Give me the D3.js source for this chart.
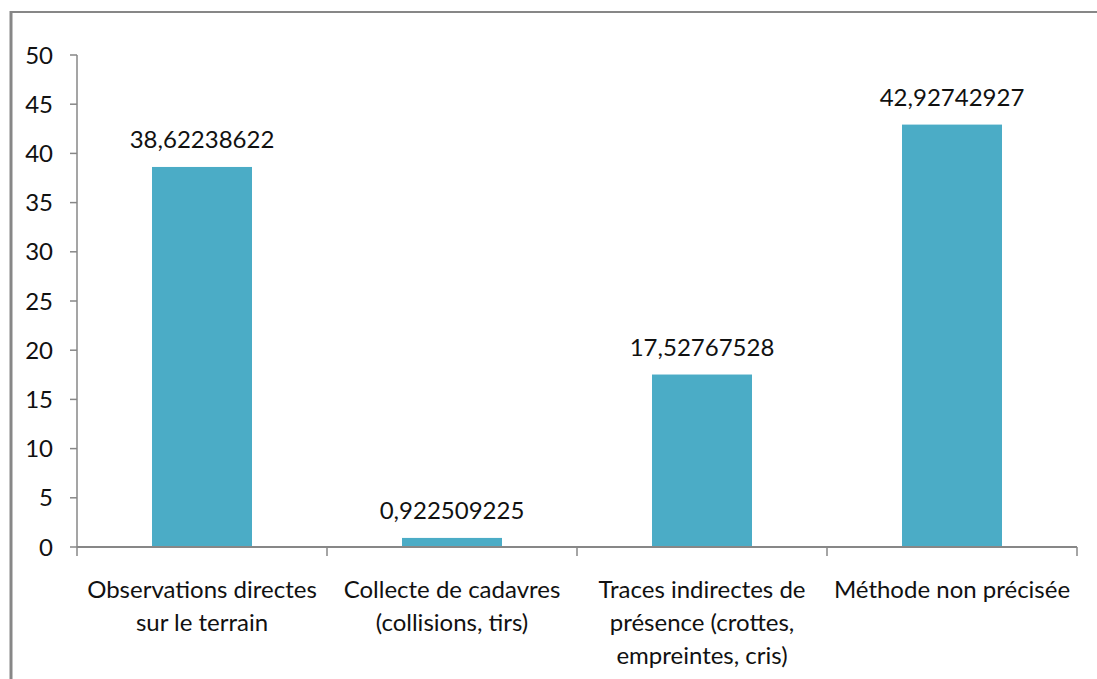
<!DOCTYPE html>
<html>
<head>
<meta charset="utf-8">
<script src="https://cdn.jsdelivr.net/npm/d3@7"></script>
<style>
  html, body { margin: 0; padding: 0; background: #fff; }
  svg { display: block; }
  text { font-family: Lato, "Open Sans", sans-serif; fill: #111; }
</style>
</head>
<body>
<svg id="chart" width="1097" height="679"></svg>
<script>
// Survey methods and their share (%)
const categories = [
  ["Observations directes", "sur le terrain"],
  ["Collecte de cadavres", "(collisions, tirs)"],
  ["Traces indirectes de", "présence (crottes,", "empreintes, cris)"],
  ["Méthode non précisée"]
];
const values = [38.62238622, 0.922509225, 17.52767528, 42.92742927];
const valueLabels = ["38,62238622", "0,922509225", "17,52767528", "42,92742927"];
const yTicks = [0, 5, 10, 15, 20, 25, 30, 35, 40, 45, 50];

const svg = d3.select("#chart");
const axisColor = "#878787";
const barColor = "#4BACC6";
const fontSize = 24;

// Outer frame (open towards right and bottom)
svg.append("line").attr("x1", 11).attr("x2", 11).attr("y1", 11).attr("y2", 679)
  .attr("stroke", "#878787").attr("stroke-width", 3);
svg.append("line").attr("x1", 10).attr("x2", 1097).attr("y1", 12).attr("y2", 12)
  .attr("stroke", "#878787").attr("stroke-width", 2);

const idx = d3.range(values.length);
const x = d3.scaleBand().domain(idx).range([77, 1077]).paddingInner(0.6).paddingOuter(0.3);
const y = d3.scaleLinear().domain([0, 50]).range([547, 55]);

// Y axis
const yAxis = svg.append("g");
yAxis.append("line").attr("x1", 77).attr("x2", 77).attr("y1", y(50)).attr("y2", y(0))
  .attr("stroke", axisColor).attr("stroke-width", 1.5);
yAxis.selectAll("line.tick").data(yTicks).join("line").attr("class", "tick")
  .attr("x1", 70).attr("x2", 77).attr("y1", d => y(d)).attr("y2", d => y(d))
  .attr("stroke", axisColor).attr("stroke-width", 1.5);
yAxis.selectAll("text").data(yTicks).join("text")
  .attr("x", 53).attr("y", d => y(d)).attr("dy", "0.36em")
  .attr("text-anchor", "end").style("font-size", fontSize + "px")
  .text(d => d);

// Bars
svg.selectAll("rect.bar").data(values).join("rect").attr("class", "bar")
  .attr("x", (d, i) => x(i)).attr("width", x.bandwidth())
  .attr("y", d => y(d)).attr("height", d => y(0) - y(d))
  .attr("fill", barColor);

// Value labels
svg.selectAll("text.val").data(values).join("text").attr("class", "val")
  .attr("x", (d, i) => x(i) + x.bandwidth() / 2).attr("y", d => y(d) - 19)
  .attr("text-anchor", "middle").style("font-size", fontSize + "px")
  .text((d, i) => valueLabels[i]);

// X axis
const step = x.step();
const boundaries = d3.range(values.length + 1).map(i => 77 + i * step);
svg.append("line").attr("x1", 77).attr("x2", 1077).attr("y1", y(0)).attr("y2", y(0))
  .attr("stroke", axisColor).attr("stroke-width", 2);
svg.selectAll("line.xtick").data(boundaries).join("line").attr("class", "xtick")
  .attr("x1", d => d).attr("x2", d => d).attr("y1", y(0)).attr("y2", y(0) + 9)
  .attr("stroke", axisColor).attr("stroke-width", 1.5);

const labels = svg.selectAll("text.cat").data(categories).join("text").attr("class", "cat")
  .attr("text-anchor", "middle").style("font-size", fontSize + "px");
labels.each(function(lines, i) {
  const cx = x(i) + x.bandwidth() / 2;
  d3.select(this).selectAll("tspan").data(lines).join("tspan")
    .attr("x", cx).attr("y", (d, j) => 598 + j * 33)
    .text(d => d);
});
</script>
</body>
</html>
